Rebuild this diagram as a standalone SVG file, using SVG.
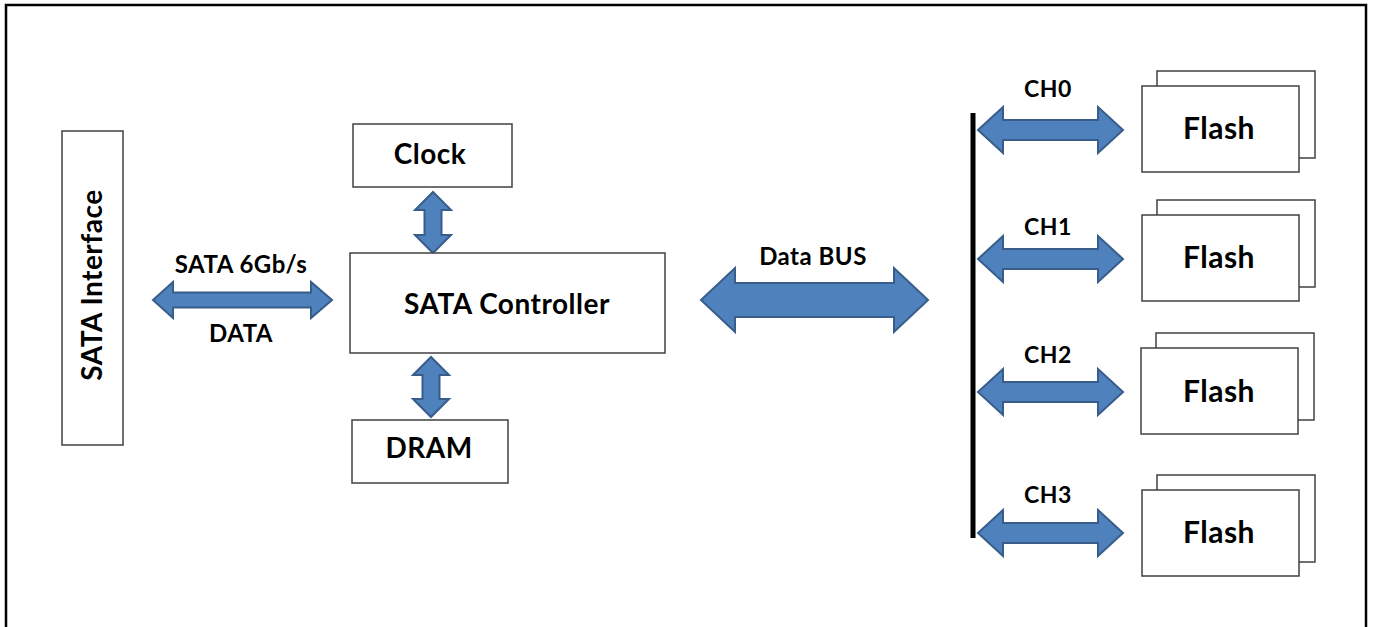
<svg xmlns="http://www.w3.org/2000/svg" width="1373" height="627" viewBox="0 0 1373 627">
  <defs>
    <style>
      .frame { fill: none; stroke: #000; stroke-width: 2.5; }
      .box { fill: #fff; stroke: #404040; stroke-width: 1.5; }
      .arrow { fill: #4f81bd; stroke: #385d8a; stroke-width: 2; stroke-linejoin: miter; }
      .bus { stroke: #000; stroke-width: 5; }
      text { font-family: Lato, "Liberation Sans", sans-serif; font-weight: bold; fill: #000; text-anchor: middle; letter-spacing: 0.5px; }
      .big { font-size: 28px; }
      .flash { font-size: 30px; }
      .mid { font-size: 24px; }
      .ch { font-size: 23px; }
    </style>
    <!-- channel double arrow, centred at origin, 145 wide -->
    <path id="chArrow" d="M -72.5 0 L -47.5 -23 L -47.5 -10 L 47.5 -10 L 47.5 -23 L 72.5 0 L 47.5 23 L 47.5 10 L -47.5 10 L -47.5 23 Z"/>
    <!-- stacked flash package, origin at front box top-left -->
    <g id="flashPkg">
      <rect class="box" x="15" y="-15" width="158" height="87"/>
      <rect class="box" x="0" y="0" width="157" height="86"/>
    </g>
  </defs>

  <rect class="frame" x="6" y="5" width="1360" height="640"/>

  <!-- connectors -->
  <g id="connectors">
    <!-- SATA link -->
    <path class="arrow" d="M 153 300 L 173 282 L 173 292.5 L 311 292.5 L 311 282 L 332 300 L 311 318 L 311 307.5 L 173 307.5 L 173 318 Z"/>
    <!-- Clock <-> controller -->
    <path class="arrow" d="M 433 192 L 451 210 L 441.5 210 L 441.5 235 L 451 235 L 433 253 L 415 235 L 424.5 235 L 424.5 210 L 415 210 Z"/>
    <!-- controller <-> DRAM -->
    <path class="arrow" d="M 431 357 L 449 375 L 439.5 375 L 439.5 399 L 449 399 L 431 417 L 413 399 L 422.5 399 L 422.5 375 L 413 375 Z"/>
    <!-- data bus -->
    <path class="arrow" d="M 701 300 L 735 268 L 735 283 L 894 283 L 894 268 L 928 300 L 894 332 L 894 317 L 735 317 L 735 332 Z"/>
    <!-- channel backbone -->
    <line class="bus" x1="973" y1="113" x2="973" y2="538"/>
    <!-- channel links -->
    <use href="#chArrow" class="arrow" transform="translate(1050.5 130)"/>
    <use href="#chArrow" class="arrow" transform="translate(1050.5 259)"/>
    <use href="#chArrow" class="arrow" transform="translate(1050.5 392)"/>
    <use href="#chArrow" class="arrow" transform="translate(1050.5 533)"/>
  </g>

  <g id="sata-interface">
    <rect class="box" x="62" y="131" width="61" height="314"/>
    <text class="big" transform="translate(102 285) rotate(-90)">SATA Interface</text>
  </g>

  <g id="sata-link-labels">
    <text class="mid" x="241" y="273">SATA 6Gb/s</text>
    <text class="mid" x="241" y="342">DATA</text>
  </g>

  <g id="clock">
    <rect class="box" x="353" y="124" width="159" height="63"/>
    <text class="big" x="430" y="164">Clock</text>
  </g>

  <g id="sata-controller">
    <rect class="box" x="350" y="253" width="315" height="100"/>
    <text class="big" x="507" y="314">SATA Controller</text>
  </g>

  <g id="dram">
    <rect class="box" x="352" y="420" width="156" height="63"/>
    <text class="big" x="429" y="458">DRAM</text>
  </g>

  <g id="data-bus-label">
    <text class="mid" x="813" y="265">Data BUS</text>
  </g>

  <g id="ch0">
    <text class="ch" x="1048" y="97">CH0</text>
    <use href="#flashPkg" transform="translate(1142 86)"/>
    <text class="flash" x="1219" y="139">Flash</text>
  </g>

  <g id="ch1">
    <text class="ch" x="1048" y="235">CH1</text>
    <use href="#flashPkg" transform="translate(1142 215)"/>
    <text class="flash" x="1219" y="268">Flash</text>
  </g>

  <g id="ch2">
    <text class="ch" x="1048" y="363">CH2</text>
    <use href="#flashPkg" transform="translate(1141 348)"/>
    <text class="flash" x="1219" y="402">Flash</text>
  </g>

  <g id="ch3">
    <text class="ch" x="1048" y="503">CH3</text>
    <use href="#flashPkg" transform="translate(1142 490)"/>
    <text class="flash" x="1219" y="543">Flash</text>
  </g>
</svg>
